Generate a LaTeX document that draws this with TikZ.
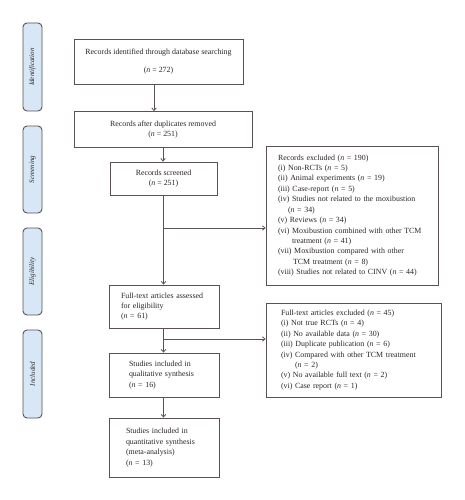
\documentclass[tikz,border=0pt]{standalone}
\usepackage{fontspec}
\setmainfont{Liberation Serif}
\usetikzlibrary{arrows.meta}
\definecolor{lc}{HTML}{5A5252}
\definecolor{tc}{HTML}{2A2424}
\definecolor{sb}{HTML}{D8E7F5}
\tikzset{
  box/.style={draw=lc, line width=0.8pt, rectangle, inner sep=0pt, text=tc,
    font=\fontsize{7.9}{10.4}\selectfont},
  lbox/.style={box, align=left},
  side/.style={draw=lc, line width=0.9pt, fill=sb, rounded corners=4pt, rectangle,
    minimum height=19pt, inner sep=0pt, text=tc, rotate=90,
    font=\fontsize{7}{9}\selectfont\itshape},
  arr/.style={draw=lc, line width=0.8pt, -{Straight Barb[length=2.6pt,width=4.5pt]}},
  ln/.style={draw=lc, line width=0.8pt}
}
\newcommand{\nn}{\textit{n}}
\begin{document}
\begin{tikzpicture}[x=1pt,y=-1pt]
\useasboundingbox (0,0) rectangle (464,500);
% sidebars
\node[side, minimum width=88pt] (sid) at (32.5,67) {Identification};
\node[side, minimum width=87pt] (sscr) at (32.5,169.5) {Screening};
\node[side, minimum width=87pt] (selg) at (32.5,271.5) {Eligibility};
\node[side, minimum width=88pt] (sinc) at (32.5,374) {Included};
% main boxes
\node[box, align=center, minimum width=169pt, minimum height=45pt] (b1) at (158.5,61.5)
  {Records identified through database searching\\[7.6pt](\nn{} = 272)};
\node[box, align=center, minimum width=178pt, minimum height=36pt] (b2) at (163,129.5)
  {Records after duplicates removed\\(\nn{} = 251)};
\node[box, align=center, minimum width=107pt, minimum height=33pt] (b3) at (163.5,178.5)
  {Records screened\\(\nn{} = 251)};
\node[lbox, minimum width=110pt, minimum height=43pt, text width=86pt] (b4) at (164,306.5)
  {Full-text articles assessed\\for eligibility\\(\nn{} = 61)};
\node[lbox, minimum width=110pt, minimum height=44pt, text width=70pt] (b5) at (164,375)
  {Studies included in\\qualitative synthesis\\(\nn{} = 16)};
\node[lbox, minimum width=110pt, minimum height=59pt, text width=76pt] (b6) at (164,447.5)
  {Studies included in\\quantitative synthesis\\(meta-analysis)\\(\nn{} = 13)};
% exclusion boxes
\node[lbox, minimum width=172pt, minimum height=139pt, text width=148pt] (b7) at (352,215.5)
  {Records excluded (\nn{} = 190)\\
   (i) Non-RCTs (\nn{} = 5)\\
   (ii) Animal experiments (\nn{} = 19)\\
   (iii) Case-report (\nn{} = 5)\\
   (iv) Studies not related to the moxibustion\\
   \hspace*{10pt}(\nn{} = 34)\\
   (v) Reviews (\nn{} = 34)\\
   (vi) Moxibustion combined with other TCM\\
   \hspace*{14pt}treatment (\nn{} = 41)\\
   (vii) Moxibustion compared with other\\
   \hspace*{15pt}TCM treatment (\nn{} = 8)\\
   (viii) Studies not related to CINV (\nn{} = 44)};
\node[lbox, minimum width=175pt, minimum height=94pt, text width=145pt] (b8) at (353.5,350)
  {Full-text articles excluded (\nn{} = 45)\\
   (i) Not true RCTs (\nn{} = 4)\\
   (ii) No available data (\nn{} = 30)\\
   (iii) Duplicate publication (\nn{} = 6)\\
   (iv) Compared with other TCM treatment\\
   \hspace*{14pt}(\nn{} = 2)\\
   (v) No available full text (\nn{} = 2)\\
   (vi) Case report (\nn{} = 1)};
% connectors
\draw[arr] ([xshift=-4.5pt]b1.south) -- ([xshift=-4.5pt]b1.south |- b2.north);
\draw[arr] (b2.south) -- (b2.south |- b3.north);
\coordinate (j1) at (b3.south |- 0,228);
\coordinate (j2) at (b3.south |- 0,339);
\draw[arr] (b3.south) -- (b3.south |- b4.north);
\draw[arr] (j1) -- (j1 -| b7.west);
\draw[arr] (b3.south |- b4.south) -- (b3.south |- b5.north);
\draw[arr] (j2) -- (j2 -| b8.west);
\draw[arr] (b3.south |- b5.south) -- (b3.south |- b6.north);
\end{tikzpicture}
\end{document}
